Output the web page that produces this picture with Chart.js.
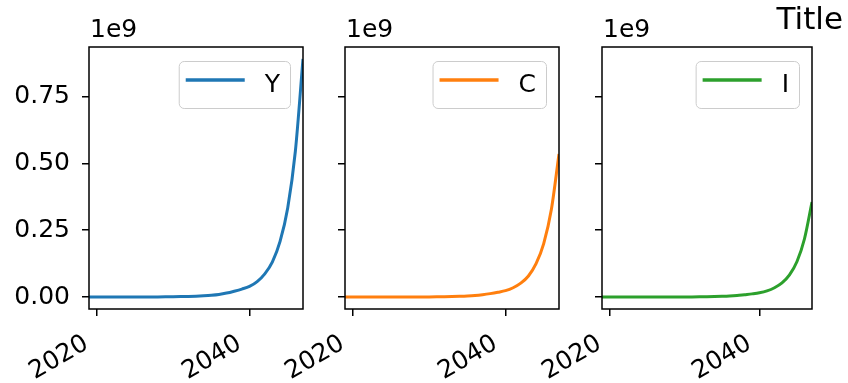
<!DOCTYPE html>
<html>
<head>
<meta charset="utf-8">
<script src="https://cdn.jsdelivr.net/npm/chart.js@4.4.1/dist/chart.umd.min.js"></script>
<style>
  html, body { margin: 0; padding: 0; background: #fff; }
  #wrap { position: relative; width: 848px; height: 383px; }
  #wrap canvas { position: absolute; left: 0; top: 0; }
</style>
</head>
<body>
<div id="wrap">
  <canvas id="c0" width="848" height="383"></canvas>
  <canvas id="c1" width="848" height="383"></canvas>
  <canvas id="c2" width="848" height="383"></canvas>
</div>
<script>
// data (values in millions)
const years = [2019, 2020, 2021, 2022, 2023, 2024, 2025, 2026, 2027, 2028,
               2029, 2030, 2031, 2032, 2033, 2034, 2035, 2036, 2037, 2038,
               2039, 2040, 2041, 2042, 2043, 2044, 2045, 2046, 2047];
const outputY = [0.03, 0.04, 0.06, 0.08, 0.12, 0.17, 0.24, 0.33, 0.47, 0.66,
                 0.92, 1.3, 1.8, 2.5, 3.5, 5.0, 7.0, 10, 15, 22,
                 30, 40, 58, 87, 132, 208, 333, 545, 890];
const consC = [0.02, 0.02, 0.04, 0.05, 0.07, 0.10, 0.14, 0.20, 0.28, 0.40,
               0.55, 0.78, 1.1, 1.5, 2.1, 3.0, 4.2, 6.0, 9.0, 13,
               18, 24, 35, 52, 79, 125, 200, 327, 535];
const investI = [0.01, 0.02, 0.02, 0.03, 0.05, 0.07, 0.10, 0.13, 0.19, 0.26,
                 0.37, 0.52, 0.7, 1.0, 1.4, 2.0, 2.8, 4.0, 6.0, 9,
                 12, 16, 23, 35, 53, 83, 133, 218, 355];
const seriesNames = ['Y', 'C', 'I'];
const xTicks = [2020, 2040];
const yTicks = [0, 0.25e9, 0.5e9, 0.75e9];

const allSeries = [outputY, consC, investI];
const colors = ['#1f77b4', '#ff7f0e', '#2ca02c'];
const FONT = '"DejaVu Sans", sans-serif';

// shared y limits with 5% margins like matplotlib
const flat = allSeries.flat().map(v => v * 1e6);
const lo = Math.min(...flat), hi = Math.max(...flat);
const yMin = lo - 0.05 * (hi - lo), yMax = hi + 0.05 * (hi - lo);

// frame, offset text, legend, title
const mplDecor = {
  id: 'mplDecor',
  afterDraw(chart, args, opts) {
    const ctx = chart.ctx, a = chart.chartArea;
    ctx.save();
    ctx.strokeStyle = '#000';
    ctx.lineWidth = 1.5;
    ctx.strokeRect(a.left, a.top, a.right - a.left, a.bottom - a.top);

    ctx.fillStyle = '#000';
    ctx.textAlign = 'left';
    ctx.textBaseline = 'alphabetic';
    ctx.font = '25px ' + FONT;
    ctx.fillText('1e9', a.left + 1, a.top - 10);

    // legend box
    const ds = chart.data.datasets[0];
    const tw = ctx.measureText(ds.label).width;
    const boxR = a.right - 13, boxT = a.top + 14, boxB = a.top + 61;
    const textX = boxR - 10 - tw;
    const lineR = textX - 20, lineL = lineR - 59, boxL = lineL - 7;
    ctx.fillStyle = 'rgba(255,255,255,0.8)';
    ctx.strokeStyle = '#cccccc';
    ctx.lineWidth = 1;
    ctx.beginPath();
    ctx.roundRect(boxL + 0.5, boxT + 0.5, boxR - boxL, boxB - boxT, 5);
    ctx.fill();
    ctx.stroke();
    ctx.strokeStyle = ds.borderColor;
    ctx.lineWidth = 3.5;
    ctx.beginPath();
    ctx.moveTo(lineL, boxT + 19);
    ctx.lineTo(lineR, boxT + 19);
    ctx.stroke();
    ctx.fillStyle = '#000';
    ctx.fillText(ds.label, textX, boxT + 31);

    if (opts.title) {
      ctx.font = '31px ' + FONT;
      ctx.textAlign = 'right';
      ctx.fillText(opts.title, 843, 29);
    }
    ctx.restore();
  }
};

const areas = [
  { left: 89, right: 303 },
  { left: 345, right: 559 },
  { left: 602, right: 812 }
];

seriesNames.forEach((name, i) => {
  const area = areas[i];
  new Chart(document.getElementById('c' + i), {
    type: 'line',
    data: {
      datasets: [{
        label: name,
        data: years.map((yr, k) => ({ x: yr, y: allSeries[i][k] * 1e6 })),
        borderColor: colors[i],
        borderWidth: 3,
        pointRadius: 0,
        cubicInterpolationMode: 'monotone',
        fill: false
      }]
    },
    options: {
      responsive: false,
      animation: false,
      events: [],
      layout: { padding: { left: 0, right: 848 - area.right, top: 47, bottom: 0 } },
      plugins: {
        legend: { display: false },
        tooltip: { enabled: false },
        mplDecor: { title: i === 2 ? 'Title' : null }
      },
      scales: {
        x: {
          type: 'linear',
          min: years[0],
          max: years[years.length - 1],
          afterBuildTicks: s => { s.ticks = xTicks.map(v => ({ value: v })); },
          afterFit: s => { s.height = 74; },
          border: { display: false },
          grid: { drawOnChartArea: false, drawTicks: true, tickLength: 7, color: '#000', lineWidth: 1.5 },
          ticks: {
            autoSkip: false,
            minRotation: 30,
            maxRotation: 30,
            padding: 13,
            labelOffset: -10,
            color: '#000',
            font: { family: FONT, size: 25 },
            callback: v => String(v)
          }
        },
        y: {
          min: yMin,
          max: yMax,
          afterBuildTicks: s => { s.ticks = yTicks.map(v => ({ value: v })); },
          afterFit: s => { s.width = area.left; },
          border: { display: false },
          grid: { drawOnChartArea: false, drawTicks: true, tickLength: 7, color: '#000', lineWidth: 1.5 },
          ticks: {
            padding: 12,
            color: '#000',
            font: { family: FONT, size: 25 },
            callback: v => i === 0 ? (v / 1e9).toFixed(2) : ''
          }
        }
      }
    },
    plugins: [mplDecor]
  });
});
</script>
</body>
</html>
